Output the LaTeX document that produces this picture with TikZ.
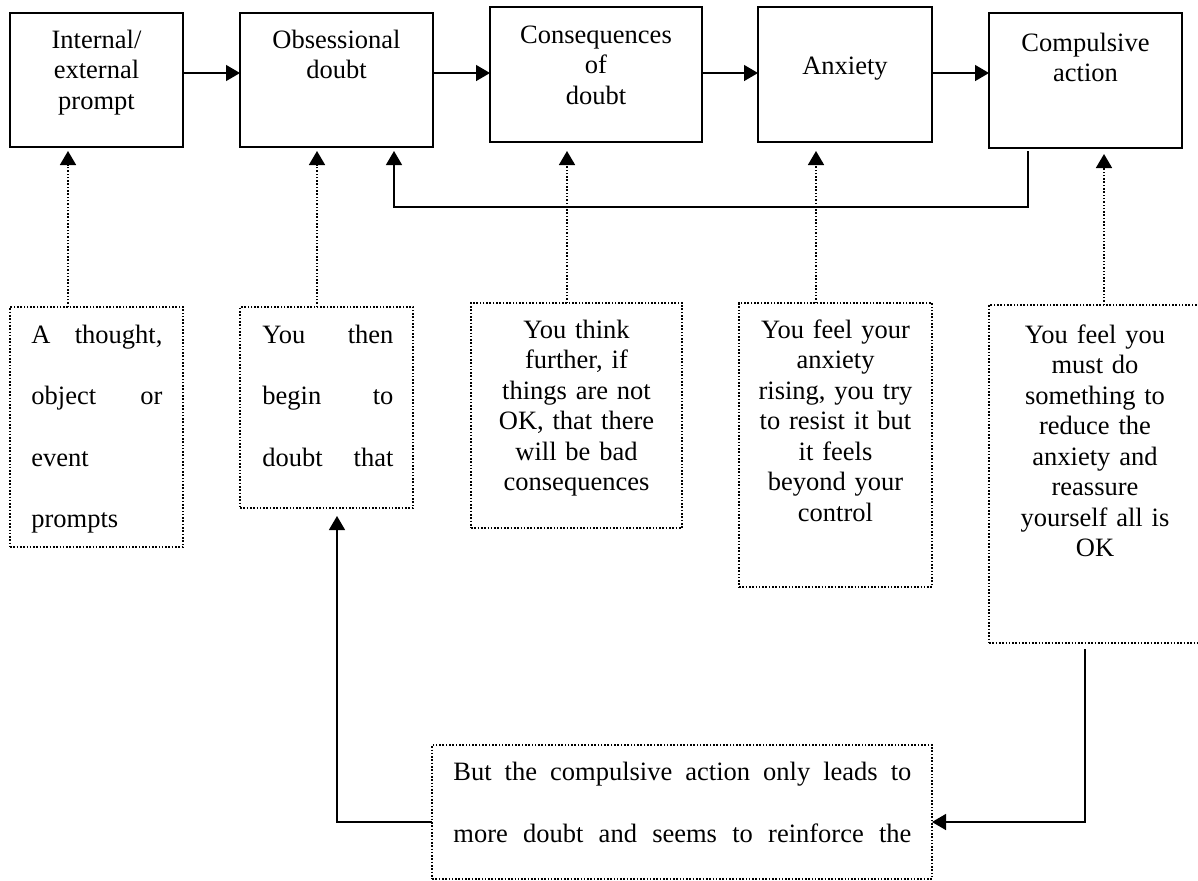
\documentclass[tikz,border=0pt]{standalone}
\usepackage{fontspec}
\setmainfont{Liberation Serif}
\usetikzlibrary{arrows.meta,calc}
\newcommand\fsn{\fontsize{13.25pt}{15.25pt}\selectfont}
\newcommand\fsd{\fontsize{13.25pt}{30.7pt}\selectfont}
\newcommand\fsf{\fontsize{13.25pt}{31pt}\selectfont}
\newcommand\ts{\rule{0pt}{10pt}}
\begin{document}
\begin{tikzpicture}[x=0.5pt,y=-0.5pt,
  solidbox/.style={draw, line width=0.8pt, inner sep=0pt, outer sep=0pt},
  dotbox/.style={draw, line width=0.9pt, dash pattern=on 0.8pt off 0.85pt, inner sep=0pt, outer sep=0pt},
  txt/.style={inner sep=0pt, anchor=north, align=center, font=\fsn},
  jtxt/.style={inner sep=0pt, anchor=north west, align=left},
  arr/.style={line width=0.7pt, -{Triangle[length=7pt,width=8pt]}},
  dotarr/.style={line width=0.85pt, dash pattern=on 0.75pt off 0.9pt, -{Triangle[length=7pt,width=8pt]}}]
\useasboundingbox (0,0) rectangle (1198,880);
% top solid boxes
\node[solidbox, minimum width=86.5pt, minimum height=67pt] (b1) at (96.5,80) {};
\node[solidbox, minimum width=96.5pt, minimum height=67pt] (b2) at (336.5,80) {};
\node[solidbox, minimum width=106pt, minimum height=67.5pt] (b3) at (596,74.5) {};
\node[solidbox, minimum width=87pt, minimum height=67.5pt] (b4) at (845,74.5) {};
\node[solidbox, minimum width=96.5pt, minimum height=67.5pt] (b5) at (1085.5,80.5) {};
\node[txt, text width=80pt] (t1) at (96.5,28) {\ts Internal/\\external\\prompt};
\node[txt, text width=90pt] (t2) at (336.5,28) {\ts Obsessional\\doubt};
\node[txt, text width=100pt] (t3) at (596,23) {\ts Consequences\\of\\doubt};
\node[txt, text width=80pt] (t4) at (845,54) {\ts Anxiety};
\node[txt, text width=90pt] (t5) at (1085.5,31) {\ts Compulsive\\action};
% dotted boxes
\node[dotbox, minimum width=86.5pt, minimum height=120pt] (bA) at (96.5,427) {};
\node[dotbox, minimum width=86.5pt, minimum height=100.5pt] (bB) at (326.5,407.5) {};
\node[dotbox, minimum width=105.5pt, minimum height=112.5pt] (bC) at (576.5,415.5) {};
\node[dotbox, minimum width=96.5pt, minimum height=142pt] (bD) at (835.5,445) {};
\node[dotbox, minimum width=106pt, minimum height=169pt] (bE) at (1095,474) {};
\node[dotbox, minimum width=250pt, minimum height=67pt] (bF) at (682,812) {};
\node[jtxt, text width=65.5pt, font=\fsd] (tA) at (31,323) {\ts A\hfill thought,\\object\hfill or\\event\\prompts};
\node[jtxt, text width=65.5pt, font=\fsd] (tB) at (262,323) {\ts You\hfill then\\begin\hfill to\\doubt\hfill that};
\node[txt, text width=100pt] (tC) at (576.5,318) {\ts You think\\further, if\\things are not\\OK, that there\\will be bad\\consequences};
\node[txt, text width=95pt] (tD) at (835.5,318) {\ts You feel your\\anxiety\\rising, you try\\to resist it but\\it feels\\beyond your\\control};
\node[txt, text width=100pt] (tE) at (1095,323) {\ts You feel you\\must do\\something to\\reduce the\\anxiety and\\reassure\\yourself all is\\OK};
\node[jtxt, text width=229pt, font=\fsf] (tF) at (453,760) {\ts But\hfill the\hfill compulsive\hfill action\hfill only\hfill leads\hfill to\\more\hfill doubt\hfill and\hfill seems\hfill to\hfill reinforce\hfill the};
% main chain
\coordinate (lev) at (0,73);
\draw[arr] (b1.east |- lev) -- (b2.west |- lev);
\draw[arr] (b2.east |- lev) -- (b3.west |- lev);
\draw[arr] (b3.east |- lev) -- (b4.west |- lev);
\draw[arr] (b4.east |- lev) -- (b5.west |- lev);
% feedback loop
\coordinate (fb1) at (1028,207);
\coordinate (fb2) at (394,207);
\draw[arr, shorten >=2pt] ([xshift=19.5pt,yshift=-1.5pt]b5.south west) -- (fb1) -- (fb2) -- (fb2 |- b2.south);
% dotted explanations
\draw[dotarr, shorten >=2pt] ([xshift=29pt]bA.north west) -- ([xshift=29pt]b1.south west);
\draw[dotarr, shorten >=2pt] ([xshift=38.5pt]bB.north west) -- ([xshift=38.5pt]b2.south west);
\draw[dotarr, shorten >=4.5pt] ([xshift=48pt]bC.north west) -- ([xshift=38.5pt]b3.south west);
\draw[dotarr, shorten >=4.5pt] ([xshift=38.5pt]bD.north west) -- ([xshift=29pt]b4.south west);
\draw[dotarr, shorten >=3pt] ([xshift=57.5pt]bE.north west) -- ([xshift=57.5pt]b5.south west);
% lower loop
\draw[arr] ([xshift=48pt,yshift=-3pt]bE.south west) |- ([yshift=-5pt]bF.east);
\draw[arr, shorten >=4pt] ([yshift=-5pt]bF.west) -| ([xshift=48.5pt]bB.south west);
\end{tikzpicture}
\end{document}
